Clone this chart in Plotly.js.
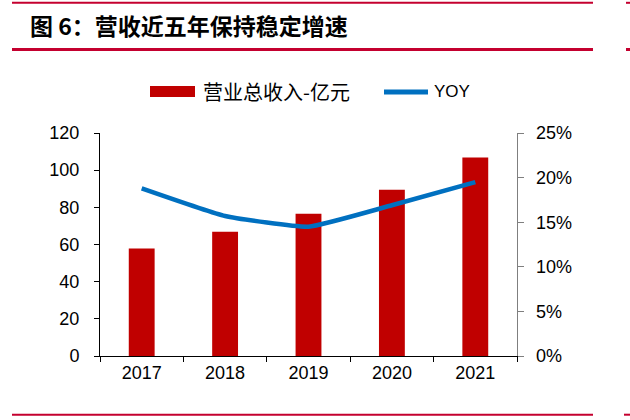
<!DOCTYPE html>
<html>
<head>
<meta charset="utf-8">
<script src="https://cdn.plot.ly/plotly-3.0.1.min.js"></script>
<style>html,body{margin:0;padding:0;background:#fff;}#chart{width:630px;height:420px;}</style>
</head>
<body>
<div id="chart"></div>
<script>
// ---- data ----
const years = ["2017", "2018", "2019", "2020", "2021"];
const revenue = [57.8, 66.8, 76.5, 89.4, 106.8];          // 营业总收入-亿元
const yoy = [0.188, 0.157, 0.145, 0.169, 0.195];          // YOY
const revenueName = "营业总收入-亿元";
const yoyName = "YOY";
const titleText = "图 6：营收近五年保持稳定增速";
const leftTicks = [0, 20, 40, 60, 80, 100, 120];
const rightTicks = [0, 0.05, 0.10, 0.15, 0.20, 0.25];

// ---- layout helpers (pixel -> paper) ----
const W = 630, H = 420;
const M = {l: 100, r: 113, t: 133, b: 64};
const PW = W - M.l - M.r, PH = H - M.t - M.b;
const px = x => (x - M.l) / PW;
const py = y => (H - M.b - y) / PH;
const RED = "#C4002F";
function band(x0, x1, yc, th, color) {
  return {type: "rect", xref: "paper", yref: "paper",
    x0: px(x0), x1: px(x1), y0: py(yc + th / 2), y1: py(yc - th / 2),
    fillcolor: color, line: {width: 0}, layer: "above"};
}

const traces = [
  {type: "bar", x: years, y: revenue, name: revenueName, marker: {color: "#C00000"},
   showlegend: false, hoverinfo: "skip"},
  {type: "scatter", mode: "lines", x: years, y: yoy, yaxis: "y2", name: yoyName,
   line: {color: "#0070C0", width: 4.5, shape: "spline", smoothing: 0.4},
   showlegend: false, hoverinfo: "skip"}
];

const tickFont = {family: "Liberation Sans, Arial, sans-serif", size: 18, color: "#000"};
const layout = {
  width: W, height: H, margin: M,
  paper_bgcolor: "#fff", plot_bgcolor: "#fff",
  showlegend: false, bargap: 0.69,
  title: {text: titleText, xref: "container", yref: "container",
    x: 30 / W, xanchor: "left", y: 1 - 27 / H, yanchor: "middle",
    font: {family: "Noto Sans CJK SC, sans-serif", size: 23, weight: "bold", color: "#000"}},
  xaxis: {type: "category", tickson: "boundaries", ticks: "outside", ticklen: 5,
    tickcolor: "#000", showline: true, linecolor: "#000", linewidth: 1,
    showgrid: false, tickfont: tickFont, zeroline: false},
  yaxis: {range: [0, 120], tickvals: leftTicks, ticks: "outside", ticklen: 5,
    tickcolor: "#000", showline: true, linecolor: "#000", linewidth: 1,
    showgrid: false, zeroline: false, tickfont: tickFont, ticklabelstandoff: 11},
  yaxis2: {range: [0, 0.25], tickvals: rightTicks, tickformat: ".0%", overlaying: "y",
    side: "right", ticks: "outside", ticklen: 6, tickcolor: "#7f7f7f",
    showline: true, linecolor: "#7f7f7f", linewidth: 1.3, showgrid: false,
    zeroline: false, tickfont: tickFont, ticklabelstandoff: 8},
  shapes: [
    band(12, 593, 2.8, 2, RED), band(626, 630, 2.8, 2, RED),
    band(12, 593, 49.5, 3, RED), band(626, 630, 49.5, 3, RED),
    band(12, 593, 414.7, 2, RED), band(624, 630, 414.7, 2, RED),
    // legend swatches
    {type: "rect", xref: "paper", yref: "paper", x0: px(150), x1: px(195),
     y0: py(97), y1: py(86), fillcolor: "#C00000", line: {width: 0}},
    {type: "line", xref: "paper", yref: "paper", x0: px(384), x1: px(428),
     y0: py(92), y1: py(92), line: {color: "#0070C0", width: 5}}
  ],
  annotations: [
    {xref: "paper", yref: "paper", x: px(201), y: py(92), xanchor: "left", yanchor: "middle",
     showarrow: false, text: revenueName,
     font: {family: "Noto Sans CJK SC, sans-serif", size: 20, color: "#000"}},
    {xref: "paper", yref: "paper", x: px(432), y: py(92), xanchor: "left", yanchor: "middle",
     showarrow: false, text: yoyName,
     font: {family: "Liberation Sans, Arial, sans-serif", size: 17, color: "#000"}}
  ]
};

Plotly.newPlot("chart", traces, layout, {staticPlot: true, displayModeBar: false});
</script>
</body>
</html>
